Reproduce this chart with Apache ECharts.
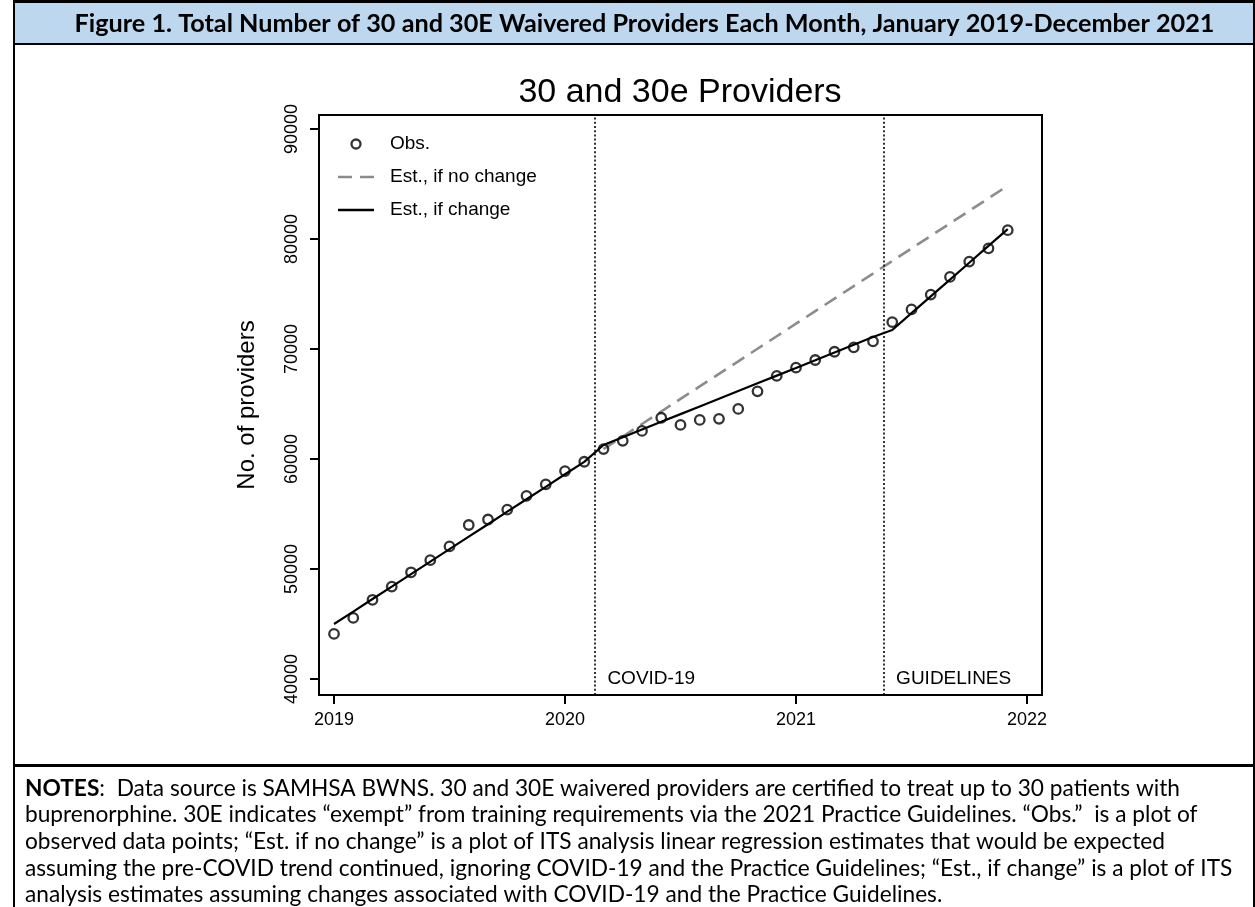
<!DOCTYPE html>
<html>
<head>
<meta charset="utf-8">
<script src="https://cdn.jsdelivr.net/npm/echarts@6/dist/echarts.min.js"></script>
<style>
html,body{margin:0;padding:0;background:#fff;}
#chart{width:1255px;height:907px;}
</style>
</head>
<body>
<div id="chart"></div>
<script>
// ---------- data ----------
const figureTitle = 'Figure 1. Total Number of 30 and 30E Waivered Providers Each Month, January 2019-December 2021';
const chartTitle = '30 and 30e Providers';
const yAxisName = 'No. of providers';
const startYear = 2019;              // month index 0 = January 2019
const yTicks = [40000, 50000, 60000, 70000, 80000, 90000];
const xTicks = [2019, 2020, 2021, 2022];
const legendNames = ['Obs.', 'Est., if no change', 'Est., if change'];

// observed monthly totals, Jan 2019 .. Dec 2021
const observed = [
  44100, 45550, 47200, 48400, 49700, 50800, 52050, 54000, 54500, 55400, 56650, 57700,
  58900, 59750, 60900, 61650, 62550, 63750, 63100, 63550, 63650, 64550, 66150, 67550,
  68300, 69000, 69750, 70150, 70700, 72450, 73600, 74950, 76550, 77950, 79150, 80800
];
// ITS estimate assuming changes, Jan 2019 .. Dec 2021
const estChange = [
  45000, 46130, 47270, 48400, 49540, 50670, 51800, 52940, 54070, 55210, 56340, 57470,
  58610, 59740, 61270, 61970, 62680, 63380, 64080, 64780, 65480, 66180, 66880, 67580,
  68280, 68980, 69690, 70390, 71090, 71730, 73260, 74790, 76310, 77840, 79370, 80900
];
// ITS counterfactual (no change), starting March 2020 (month index 14)
const noChangeStartMonth = 14;
const estNoChange = [
  60900, 62040, 63180, 64320, 65460, 66600, 67740, 68880, 70020, 71160, 72300,
  73440, 74580, 75720, 76860, 78000, 79140, 80280, 81420, 82560, 83700, 84840
];
// interruption points (month index, between two observed months)
const eventNames = ['COVID-19', 'GUIDELINES'];
const eventMonths = [13.5, 28.5];

const notesLines = [
  '{b|NOTES}:  Data source is SAMHSA BWNS. 30 and 30E waivered providers are certified to treat up to 30 patients with',
  'buprenorphine. 30E indicates \u201cexempt\u201d from training requirements via the 2021 Practice Guidelines. \u201cObs.\u201d  is a plot of',
  'observed data points; \u201cEst. if no change\u201d is a plot of ITS analysis linear regression estimates that would be expected',
  'assuming the pre-COVID trend continued, ignoring COVID-19 and the Practice Guidelines; \u201cEst., if change\u201d is a plot of ITS',
  'analysis estimates assuming changes associated with COVID-19 and the Practice Guidelines.'
];

// ---------- helpers ----------
const monthX = i => startYear + i / 12;
const chartFont = '"Liberation Sans", Arial, Helvetica, sans-serif';
const docFont = 'Lato, Carlito, Calibri, "Open Sans", sans-serif';

const measureCtx = document.createElement('canvas').getContext('2d');
function fitSize(text, weight, family, target) {
  measureCtx.font = weight + ' 100px ' + family;
  const w = measureCtx.measureText(text).width;
  return 100 * target / w;
}
const titleSize = Math.max(20, Math.min(27, fitSize(figureTitle, 'bold', docFont, 1140)));
const notesSize = Math.max(18, Math.min(24, fitSize(notesLines[1], 'normal', docFont, 1173)));

const W = 1255;
const frameLeft = 14;

const chart = echarts.init(document.getElementById('chart'), null, {renderer: 'canvas'});

const option = {
  animation: false,
  backgroundColor: '#fff',
  title: {
    text: chartTitle,
    left: 680,
    top: 76,
    textAlign: 'center',
    padding: 0,
    textStyle: {fontFamily: chartFont, fontSize: 34, fontWeight: 'normal', color: '#000'}
  },
  grid: {
    left: 319, top: 115, width: 723, height: 580,
    show: true, borderColor: '#000', borderWidth: 2, backgroundColor: 'transparent'
  },
  legend: {
    orient: 'vertical',
    left: 338, top: 134,
    padding: 0,
    itemWidth: 36, itemHeight: 9, itemGap: 13,
    selectedMode: false,
    textStyle: {fontFamily: chartFont, fontSize: 19, color: '#000', lineHeight: 20, padding: [0, 0, 0, 11]},
    data: [
      {name: legendNames[0], icon: 'circle',
        itemStyle: {color: 'rgba(0,0,0,0)', borderColor: '#000', borderWidth: 2.3}},
      {name: legendNames[1], icon: 'path://M0,0H14V2.6H0Z M22,0H36V2.6H22Z',
        itemStyle: {color: '#8c8c8c', borderWidth: 0}},
      {name: legendNames[2], icon: 'path://M0,0H36V2.4H0Z',
        itemStyle: {color: '#000', borderWidth: 0}}
    ]
  },
  xAxis: {
    type: 'value',
    min: 2018.935, max: 2022.065,
    splitLine: {show: false},
    axisLine: {show: true, onZero: false, lineStyle: {color: '#000', width: 2}},
    axisTick: {show: true, customValues: xTicks, length: 9, lineStyle: {color: '#000', width: 2}},
    axisLabel: {customValues: xTicks, margin: 16, fontFamily: chartFont, fontSize: 18, color: '#000',
      formatter: v => String(v)}
  },
  yAxis: {
    type: 'value',
    min: 38545, max: 91273,
    splitLine: {show: false},
    axisLine: {show: true, onZero: false, lineStyle: {color: '#000', width: 2}},
    axisTick: {show: true, customValues: yTicks, length: 9, lineStyle: {color: '#000', width: 2}},
    axisLabel: {customValues: yTicks, rotate: 90, margin: 18, fontFamily: chartFont, fontSize: 18, color: '#000',
      formatter: v => String(v)},
    name: yAxisName,
    nameLocation: 'middle',
    nameRotate: 90,
    nameGap: 60,
    nameTextStyle: {fontFamily: chartFont, fontSize: 24, color: '#000'}
  },
  series: [
    {
      name: 'events',
      type: 'scatter',
      silent: true,
      symbolSize: 1,
      itemStyle: {color: 'rgba(0,0,0,0)'},
      data: eventNames.map((n, k) => ({name: n, value: [monthX(eventMonths[k]), yTicks[0]]})),
      label: {show: true, position: 'right', distance: 13, formatter: '{b}',
        fontFamily: chartFont, fontSize: 19, color: '#000', opacity: 1},
      markLine: {
        silent: true,
        symbol: ['none', 'none'],
        label: {show: false},
        lineStyle: {color: '#000', type: [2, 2.2], width: 1.6},
        data: eventMonths.map(m => ({xAxis: monthX(m)}))
      },
      z: 1
    },
    {
      name: legendNames[1],
      type: 'line',
      symbol: 'none',
      lineStyle: {color: '#8c8c8c', width: 2.6, type: [14, 8]},
      data: estNoChange.map((v, k) => [monthX(noChangeStartMonth + k), v]),
      z: 2
    },
    {
      name: legendNames[2],
      type: 'line',
      symbol: 'none',
      lineStyle: {color: '#000', width: 2.2},
      data: estChange.map((v, i) => [monthX(i), v]),
      z: 3
    },
    {
      name: legendNames[0],
      type: 'scatter',
      symbol: 'circle',
      symbolSize: 9.5,
      itemStyle: {color: 'rgba(0,0,0,0)', borderColor: '#000', borderWidth: 2.3},
      data: observed.map((v, i) => [monthX(i), v]),
      z: 4
    }
  ],
  graphic: [
    {type: 'rect', silent: true, shape: {x: frameLeft, y: 3, width: W - frameLeft, height: 40}, style: {fill: '#BDD7EE'}},
    {type: 'rect', silent: true, shape: {x: frameLeft, y: 0, width: W - frameLeft, height: 3}, style: {fill: '#000'}},
    {type: 'rect', silent: true, shape: {x: frameLeft, y: 43, width: W - frameLeft, height: 2}, style: {fill: '#000'}},
    {type: 'rect', silent: true, shape: {x: frameLeft - 1, y: 0, width: 2, height: 907}, style: {fill: '#000'}},
    {type: 'rect', silent: true, shape: {x: W - 2, y: 0, width: 2, height: 907}, style: {fill: '#000'}},
    {type: 'rect', silent: true, shape: {x: frameLeft, y: 764, width: W - frameLeft, height: 3}, style: {fill: '#000'}},
    {type: 'text', silent: true, style: {
      x: (frameLeft + W) / 2 + 10, y: 24, text: figureTitle, align: 'center', verticalAlign: 'middle',
      fontFamily: docFont, fontWeight: 'bold', fontSize: titleSize, fill: '#000'}},
    {type: 'text', silent: true, style: {
      x: 25, y: 775, text: notesLines.join('\n'), align: 'left', verticalAlign: 'top',
      fontFamily: docFont, fontSize: notesSize, lineHeight: 26.7, fill: '#000',
      rich: {b: {fontFamily: docFont, fontSize: notesSize, fontWeight: 'bold', lineHeight: 26.7, fill: '#000'}}}}
  ]
};
chart.setOption(option);
</script>
</body>
</html>
